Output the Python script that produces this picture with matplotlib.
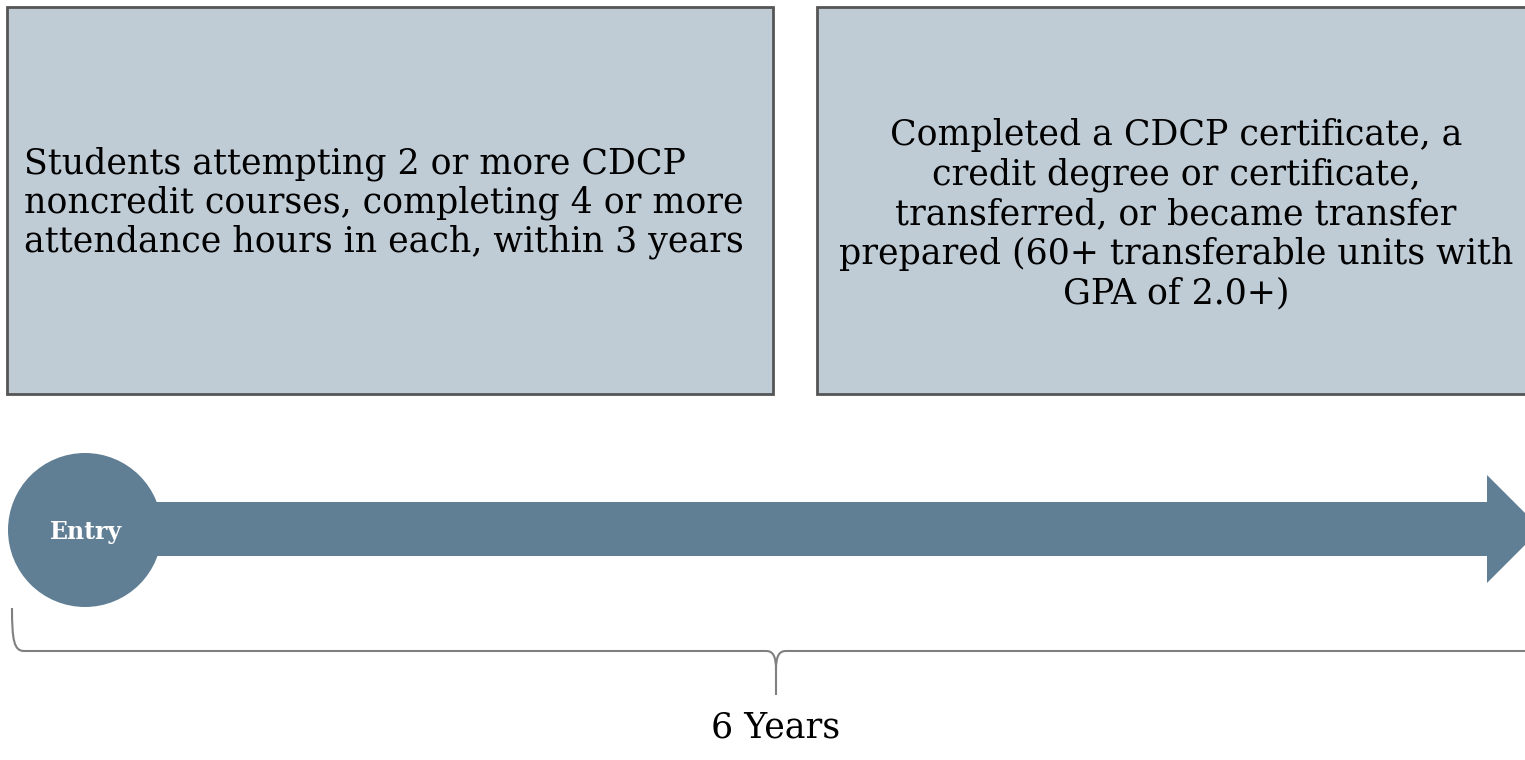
import matplotlib.pyplot as plt
from matplotlib.patches import Rectangle, Circle, Polygon, PathPatch
from matplotlib.path import Path

# text content
left_text = ("Students attempting 2 or more CDCP\n"
             "noncredit courses, completing 4 or more\n"
             "attendance hours in each, within 3 years")
right_text = ("Completed a CDCP certificate, a\n"
              "credit degree or certificate,\n"
              "transferred, or became transfer\n"
              "prepared (60+ transferable units with\n"
              "GPA of 2.0+)")
entry_label = "Entry"
span_label = "6 Years"

BOX_FILL = '#bfcbd5'
BOX_EDGE = '#555555'
ARROW_COL = '#607f95'
BRACE_COL = '#808080'

plt.rcParams['font.family'] = ['DejaVu Serif']

fig = plt.figure(figsize=(15.25, 7.6), dpi=100)
ax = fig.add_axes([0, 0, 1, 1])
ax.set_xlim(0, 1525)
ax.set_ylim(760, 0)
ax.axis('off')

# boxes
ax.add_patch(Rectangle((7, 7), 766, 387, facecolor=BOX_FILL, edgecolor=BOX_EDGE, lw=2))
ax.add_patch(Rectangle((817, 7), 760, 387, facecolor=BOX_FILL, edgecolor=BOX_EDGE, lw=2))
ax.text(24, 203, left_text, ha='left', va='center', fontsize=25,
        linespacing=1.17, color='black')
ax.text(1176, 214, right_text, ha='center', va='center', fontsize=25,
        linespacing=1.2, color='black')

# arrow
ax.add_patch(Polygon([(80, 502), (1487, 502), (1487, 475), (1541, 529),
                      (1487, 583), (1487, 556), (80, 556)],
                     closed=True, facecolor=ARROW_COL, edgecolor='none'))
ax.add_patch(Circle((85, 530), 77, facecolor=ARROW_COL, edgecolor='none'))
ax.text(86, 532, entry_label, ha='center', va='center', fontsize=17,
        fontweight='bold', color='white')

# brace
verts = [(12, 608), (12, 640), (14, 651), (24, 651),
         (766, 651),
         (773, 651), (776, 656), (776, 670),
         (776, 695),
         (776, 670),
         (776, 656), (779, 651), (786, 651),
         (1540, 651)]
codes = [Path.MOVETO, Path.CURVE4, Path.CURVE4, Path.CURVE4,
         Path.LINETO,
         Path.CURVE4, Path.CURVE4, Path.CURVE4,
         Path.LINETO,
         Path.MOVETO,
         Path.CURVE4, Path.CURVE4, Path.CURVE4,
         Path.LINETO]
ax.add_patch(PathPatch(Path(verts, codes), facecolor='none', edgecolor=BRACE_COL, lw=1.5))
ax.text(776, 728, span_label, ha='center', va='center', fontsize=25, color='black')

fig.savefig('out.png', dpi=100)
